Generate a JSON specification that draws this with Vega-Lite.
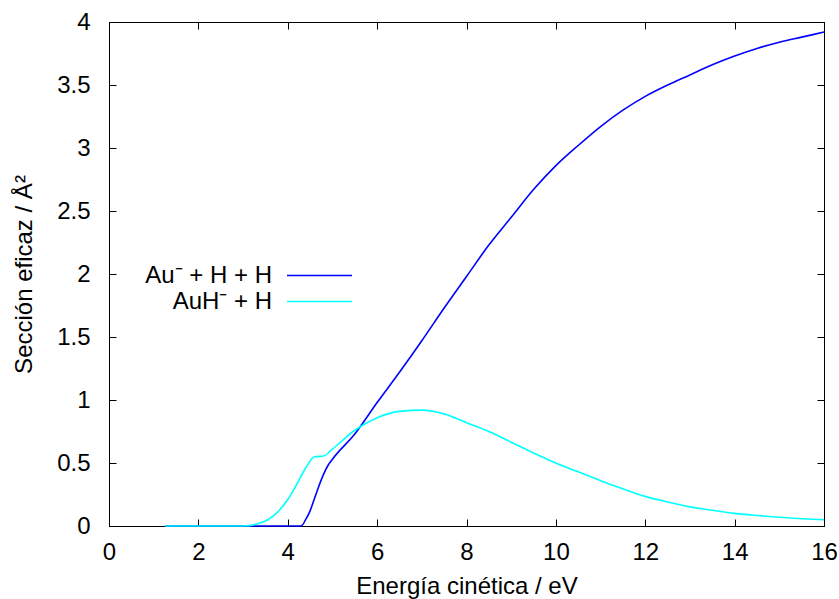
{
  "$schema": "https://vega.github.io/schema/vega-lite/v6.json",
  "autosize": "none",
  "width": 715,
  "height": 504,
  "padding": {"left": 109, "top": 22, "right": 15, "bottom": 73},
  "background": "white",
  "config": {
    "font": "Liberation Sans",
    "view": {"stroke": "black", "strokeWidth": 1},
    "axis": {"grid": false, "domainColor": "black", "tickColor": "black", "labelColor": "black", "titleColor": "black", "labelFont": "Liberation Sans", "titleFont": "Liberation Sans", "labelFontSize": 24, "titleFontSize": 24, "titleFontWeight": "normal", "tickSize": -7, "tickWidth": 1, "labelFlush": false, "labelOverlap": false}
  },
  "data": {"values": [
    {"E": 1.25, "s": 0, "c": "Au⁻ + H + H"},
    {"E": 3.0, "s": 0, "c": "Au⁻ + H + H"},
    {"E": 4.3, "s": 0, "c": "Au⁻ + H + H"},
    {"E": 4.4, "s": 0.05, "c": "Au⁻ + H + H"},
    {"E": 4.5, "s": 0.12, "c": "Au⁻ + H + H"},
    {"E": 4.6, "s": 0.22, "c": "Au⁻ + H + H"},
    {"E": 4.7, "s": 0.32, "c": "Au⁻ + H + H"},
    {"E": 4.8, "s": 0.41, "c": "Au⁻ + H + H"},
    {"E": 4.9, "s": 0.48, "c": "Au⁻ + H + H"},
    {"E": 5.0, "s": 0.53, "c": "Au⁻ + H + H"},
    {"E": 5.5, "s": 0.73, "c": "Au⁻ + H + H"},
    {"E": 6.0, "s": 0.98, "c": "Au⁻ + H + H"},
    {"E": 6.5, "s": 1.22, "c": "Au⁻ + H + H"},
    {"E": 7.0, "s": 1.47, "c": "Au⁻ + H + H"},
    {"E": 7.5, "s": 1.73, "c": "Au⁻ + H + H"},
    {"E": 8.0, "s": 1.98, "c": "Au⁻ + H + H"},
    {"E": 8.5, "s": 2.23, "c": "Au⁻ + H + H"},
    {"E": 9.0, "s": 2.45, "c": "Au⁻ + H + H"},
    {"E": 9.5, "s": 2.67, "c": "Au⁻ + H + H"},
    {"E": 10.0, "s": 2.86, "c": "Au⁻ + H + H"},
    {"E": 10.5, "s": 3.02, "c": "Au⁻ + H + H"},
    {"E": 11.0, "s": 3.17, "c": "Au⁻ + H + H"},
    {"E": 11.5, "s": 3.30, "c": "Au⁻ + H + H"},
    {"E": 12.0, "s": 3.41, "c": "Au⁻ + H + H"},
    {"E": 12.5, "s": 3.50, "c": "Au⁻ + H + H"},
    {"E": 13.0, "s": 3.58, "c": "Au⁻ + H + H"},
    {"E": 13.5, "s": 3.66, "c": "Au⁻ + H + H"},
    {"E": 14.0, "s": 3.73, "c": "Au⁻ + H + H"},
    {"E": 14.5, "s": 3.79, "c": "Au⁻ + H + H"},
    {"E": 15.0, "s": 3.84, "c": "Au⁻ + H + H"},
    {"E": 15.5, "s": 3.88, "c": "Au⁻ + H + H"},
    {"E": 16.0, "s": 3.92, "c": "Au⁻ + H + H"},
    {"E": 1.25, "s": 0, "c": "AuH⁻ + H"},
    {"E": 3.0, "s": 0, "c": "AuH⁻ + H"},
    {"E": 3.5, "s": 0.04, "c": "AuH⁻ + H"},
    {"E": 4.0, "s": 0.21, "c": "AuH⁻ + H"},
    {"E": 4.2, "s": 0.33, "c": "AuH⁻ + H"},
    {"E": 4.4, "s": 0.46, "c": "AuH⁻ + H"},
    {"E": 4.6, "s": 0.55, "c": "AuH⁻ + H"},
    {"E": 4.8, "s": 0.555, "c": "AuH⁻ + H"},
    {"E": 5.0, "s": 0.61, "c": "AuH⁻ + H"},
    {"E": 5.5, "s": 0.76, "c": "AuH⁻ + H"},
    {"E": 6.0, "s": 0.86, "c": "AuH⁻ + H"},
    {"E": 6.5, "s": 0.91, "c": "AuH⁻ + H"},
    {"E": 7.0, "s": 0.92, "c": "AuH⁻ + H"},
    {"E": 7.5, "s": 0.89, "c": "AuH⁻ + H"},
    {"E": 8.0, "s": 0.82, "c": "AuH⁻ + H"},
    {"E": 8.5, "s": 0.75, "c": "AuH⁻ + H"},
    {"E": 9.0, "s": 0.665, "c": "AuH⁻ + H"},
    {"E": 9.5, "s": 0.58, "c": "AuH⁻ + H"},
    {"E": 10.0, "s": 0.50, "c": "AuH⁻ + H"},
    {"E": 10.5, "s": 0.43, "c": "AuH⁻ + H"},
    {"E": 11.0, "s": 0.36, "c": "AuH⁻ + H"},
    {"E": 11.5, "s": 0.295, "c": "AuH⁻ + H"},
    {"E": 12.0, "s": 0.235, "c": "AuH⁻ + H"},
    {"E": 12.5, "s": 0.19, "c": "AuH⁻ + H"},
    {"E": 13.0, "s": 0.152, "c": "AuH⁻ + H"},
    {"E": 13.5, "s": 0.125, "c": "AuH⁻ + H"},
    {"E": 14.0, "s": 0.10, "c": "AuH⁻ + H"},
    {"E": 14.5, "s": 0.083, "c": "AuH⁻ + H"},
    {"E": 15.0, "s": 0.069, "c": "AuH⁻ + H"},
    {"E": 15.5, "s": 0.058, "c": "AuH⁻ + H"},
    {"E": 16.0, "s": 0.05, "c": "AuH⁻ + H"}
  ]},
  "layer": [
    {
      "mark": {"type": "line", "strokeWidth": 1.6, "interpolate": "monotone"},
      "encoding": {
        "x": {"field": "E", "type": "quantitative", "scale": {"domain": [0, 16], "nice": false, "zero": false}, "axis": {"values": [0, 2, 4, 6, 8, 10, 12, 14, 16], "title": "Energía cinética / eV", "labelPadding": 21, "titlePadding": 10, "format": "d"}},
        "y": {"field": "s", "type": "quantitative", "scale": {"domain": [0, 4], "nice": false}, "axis": {"values": [0, 0.5, 1, 1.5, 2, 2.5, 3, 3.5, 4], "format": "~g", "title": "Sección eficaz / Å²", "labelPadding": 26, "titlePadding": 20}},
        "color": {"field": "c", "type": "nominal", "sort": ["Au⁻ + H + H", "AuH⁻ + H"], "scale": {"domain": ["Au⁻ + H + H", "AuH⁻ + H"], "range": ["#0000ff", "#00ffff"]},
          "legend": {"orient": "none", "legendX": 197, "legendY": 240, "title": null, "symbolType": "M-2.6,0H2.6", "symbolSize": 625, "symbolStrokeWidth": 1.6, "labelFontSize": 24, "labelFont": "Liberation Sans", "labelColor": "black", "labelAlign": "right", "labelOffset": -61, "rowPadding": 0, "labelLimit": 400}}
      }
    },
    {
      "mark": {"type": "line", "strokeOpacity": 0},
      "encoding": {
        "x": {"field": "E", "type": "quantitative", "axis": {"orient": "top", "values": [0, 2, 4, 6, 8, 10, 12, 14, 16], "labels": false, "title": null}},
        "y": {"field": "s", "type": "quantitative", "axis": {"orient": "right", "values": [0, 0.5, 1, 1.5, 2, 2.5, 3, 3.5, 4], "labels": false, "title": null}}
      }
    }
  ],
  "resolve": {"axis": {"x": "independent", "y": "independent"}}
}
